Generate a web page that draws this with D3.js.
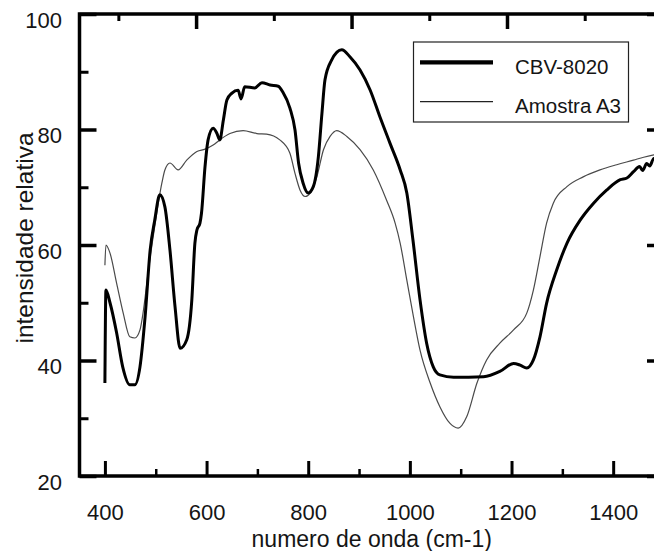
<!DOCTYPE html>
<html>
<head>
<meta charset="utf-8">
<script src="https://cdn.jsdelivr.net/npm/d3@7"></script>
<style>
  html, body { margin: 0; padding: 0; background: #fff; }
  svg { display: block; }
  text { font-family: "Liberation Sans", Arial, sans-serif; fill: #151515; }
</style>
</head>
<body>
<svg id="chart" width="654" height="551"></svg>
<script>
// wavenumber (cm-1) / relative intensity
const cbvX = [400, 402, 410, 423, 435, 449, 459, 469, 479, 489, 498, 508, 518, 528, 538, 548, 561, 571, 577, 581, 587, 590, 597, 603, 613, 620, 626, 633, 640, 650, 662, 668, 675, 695, 709, 725, 741, 750, 764, 774, 781, 790, 800, 810, 820, 827, 833, 846, 866, 882, 902, 922, 941, 961, 981, 994, 1006, 1020, 1033, 1046, 1059, 1086, 1145, 1177, 1204, 1217, 1230, 1243, 1256, 1269, 1289, 1309, 1335, 1361, 1387, 1414, 1427, 1440, 1452, 1458, 1466, 1472, 1480, 1488, 1496];
const cbvY = [36.1, 52.2, 50.0, 44.8, 38.9, 35.8, 35.8, 38.9, 47.5, 59.1, 64.3, 68.7, 66.6, 59.1, 49.3, 42.1, 43.6, 50.5, 60.3, 62.6, 63.8, 65.5, 73.6, 78.2, 80.2, 79.4, 78.2, 81.6, 85.1, 86.3, 86.8, 85.3, 87.4, 87.2, 88.1, 87.7, 87.5, 86.5, 83.7, 79.9, 74.2, 70.7, 69.0, 70.1, 75.3, 82.8, 88.6, 92.0, 93.8, 92.6, 90.3, 86.8, 82.2, 77.6, 73.0, 69.0, 60.9, 50.5, 43.0, 38.9, 37.5, 37.1, 37.2, 38.1, 39.5, 39.2, 38.7, 40.1, 44.1, 49.9, 55.7, 60.3, 64.3, 67.2, 69.5, 71.3, 71.6, 72.7, 73.6, 72.9, 74.1, 73.7, 75.0, 74.9, 75.6];

const a3X = [400, 402, 410, 423, 436, 449, 459, 469, 475, 485, 498, 512, 518, 528, 544, 561, 581, 597, 613, 626, 646, 672, 699, 718, 744, 764, 774, 784, 794, 804, 817, 830, 843, 856, 876, 902, 928, 954, 971, 981, 994, 1007, 1020, 1040, 1059, 1079, 1095, 1112, 1132, 1151, 1177, 1204, 1230, 1243, 1256, 1269, 1282, 1309, 1341, 1374, 1407, 1440, 1460, 1480, 1496];
const a3Y = [56.5, 60.0, 58.6, 53.4, 48.2, 44.1, 43.9, 45.3, 48.2, 55.2, 63.2, 70.7, 73.0, 74.2, 73.0, 74.7, 76.2, 76.6, 77.3, 78.2, 79.3, 79.8, 79.3, 79.2, 78.2, 75.9, 72.4, 69.5, 68.4, 69.0, 71.8, 76.5, 78.8, 79.8, 78.8, 76.5, 73.0, 67.8, 63.8, 60.3, 53.9, 47.6, 41.8, 36.1, 32.0, 29.1, 28.3, 30.3, 36.1, 40.1, 43.0, 45.3, 48.2, 52.2, 58.0, 63.8, 67.2, 70.1, 71.8, 73.0, 73.9, 74.7, 75.2, 75.6, 75.8];

const xMajor = [400, 600, 800, 1000, 1200, 1400];
const xMinor = [500, 700, 900, 1100, 1300, 1500];
const yMajor = [20, 40, 60, 80, 100];
const yMinor = [30, 50, 70, 90];
// the top frame carries its own unlabelled ticks
const topMajor = [0.75, 1.75, 2.75, 3.75];
const topMinor = [0.25, 1.25, 2.25, 3.25];

const seriesNames = ['CBV-8020', 'Amostra A3'];

const svg = d3.select('#chart');
const pLeft = 79.5, pRight = 664, pTop = 14, pBottom = 476;

const x = d3.scaleLinear().domain([350, 1500]).range([pLeft, pRight]);
const y = d3.scaleLinear().domain([20, 100]).range([pBottom, pTop]);
const xTop = d3.scaleLinear().domain([0, 3.76]).range([pLeft, pRight]);

const plot = svg.append('g');

// curves
const line = d3.line()
  .x(d => x(d[0]))
  .y(d => y(d[1]))
  .curve(d3.curveMonotoneX);

plot.append('path')
  .datum(d3.zip(a3X, a3Y))
  .attr('d', line)
  .attr('fill', 'none')
  .attr('stroke', '#4a4a4a')
  .attr('stroke-width', 1.2);

plot.append('path')
  .datum(d3.zip(cbvX, cbvY))
  .attr('d', line)
  .attr('fill', 'none')
  .attr('stroke', '#000')
  .attr('stroke-width', 3)
  .attr('stroke-linejoin', 'round');

function tickStyle(g, w) {
  g.select('.domain').remove();
  g.selectAll('.tick line').attr('stroke', '#000').attr('stroke-width', w);
}

// bottom axis
svg.append('g')
  .attr('transform', `translate(0,${pBottom})`)
  .call(d3.axisBottom(x).tickValues(xMinor).tickSize(-7).tickFormat(''))
  .call(g => tickStyle(g, 2.5));
const xAx = svg.append('g')
  .attr('transform', `translate(0,${pBottom})`)
  .call(d3.axisBottom(x).tickValues(xMajor).tickSize(-15).tickPadding(28).tickFormat(d3.format('d')))
  .call(g => tickStyle(g, 3));
xAx.selectAll('text').attr('font-size', 22).attr('fill', '#151515');

// left axis
svg.append('g')
  .attr('transform', `translate(${pLeft},0)`)
  .call(d3.axisLeft(y).tickValues(yMinor).tickSize(-9).tickFormat(''))
  .call(g => tickStyle(g, 3));
const yAx = svg.append('g')
  .attr('transform', `translate(${pLeft},0)`)
  .call(d3.axisLeft(y).tickValues(yMajor).tickSize(-17).tickPadding(17.5).tickFormat(d3.format('d')))
  .call(g => tickStyle(g, 3.5));
yAx.selectAll('text').attr('font-size', 22).attr('dy', '0.61em').attr('fill', '#151515');

// right axis (mirror, no labels)
svg.append('g')
  .attr('transform', `translate(${pRight},0)`)
  .call(d3.axisRight(y).tickValues(yMinor).tickSize(-9).tickFormat(''))
  .call(g => tickStyle(g, 3));
svg.append('g')
  .attr('transform', `translate(${pRight},0)`)
  .call(d3.axisRight(y).tickValues(yMajor).tickSize(-17).tickFormat(''))
  .call(g => tickStyle(g, 3.5));

// top axis
svg.append('g')
  .attr('transform', `translate(0,${pTop})`)
  .call(d3.axisTop(xTop).tickValues(topMinor).tickSize(-7).tickFormat(''))
  .call(g => tickStyle(g, 3));
svg.append('g')
  .attr('transform', `translate(0,${pTop})`)
  .call(d3.axisTop(xTop).tickValues(topMajor).tickSize(-15).tickFormat(''))
  .call(g => tickStyle(g, 3.5));

// frame
svg.append('rect')
  .attr('x', pLeft).attr('y', pTop)
  .attr('width', pRight - pLeft).attr('height', pBottom - pTop)
  .attr('fill', 'none')
  .attr('stroke', '#000')
  .attr('stroke-width', 3.5);

// axis titles
svg.append('text')
  .attr('x', (pLeft + pRight) / 2)
  .attr('y', 546.5)
  .attr('text-anchor', 'middle')
  .attr('font-size', 23)
  .text('numero de onda (cm-1)');

svg.append('text')
  .attr('transform', `translate(33,238) rotate(-90)`)
  .attr('text-anchor', 'middle')
  .attr('font-size', 24.5)
  .text('intensidade relativa');

// legend
const legend = svg.append('g');
legend.append('rect')
  .attr('x', 413.5).attr('y', 42)
  .attr('width', 215).attr('height', 80)
  .attr('fill', '#fff')
  .attr('stroke', '#222')
  .attr('stroke-width', 1.2);

const legendStroke = [4.3, 1.2];
const legendColor = ['#000', '#222'];
seriesNames.forEach((name, i) => {
  const ly = i === 0 ? 62.3 : 101.7;
  legend.append('line')
    .attr('x1', 420).attr('x2', 493)
    .attr('y1', ly).attr('y2', ly)
    .attr('stroke', legendColor[i])
    .attr('stroke-width', legendStroke[i]);
  legend.append('text')
    .attr('x', 515)
    .attr('y', ly + 11.5)
    .attr('font-size', 20.5)
    .text(name);
});
</script>
</body>
</html>
